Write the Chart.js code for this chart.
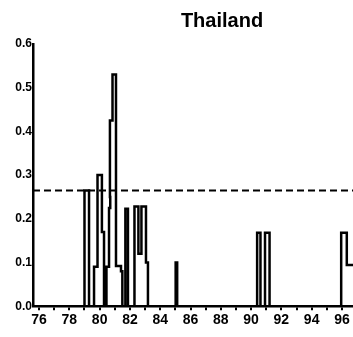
<!DOCTYPE html>
<html>
<head>
<meta charset="utf-8">
<script src="https://cdn.jsdelivr.net/npm/chart.js@4"></script>
<style>
  html, body { margin: 0; padding: 0; background: #fff; }
  #wrap { width: 353px; height: 337px; }
</style>
</head>
<body>
<div id="wrap"><canvas id="grafico" width="353" height="337"></canvas></div>
<script>
// Thailand - serie escalonada (año, valor desde ese año)
const titulo = "Thailand";
const anios = [75.6, 79.0, 79.3, 79.63, 79.86, 80.15, 80.29, 80.45, 80.62, 80.7, 80.68, 80.85, 81.08, 81.41, 81.5,
  81.7, 81.87, 82.3, 82.56, 82.76, 83.06, 83.19, 85.02, 85.12, 90.4, 90.62, 90.92, 91.22, 95.95, 96.32, 96.73];
const valores = [0, 0.265, 0, 0.09, 0.3, 0.17, 0, 0.09, 0.225, 0.25, 0.425, 0.53, 0.092, 0.08, 0,
  0.223, 0, 0.228, 0.12, 0.228, 0.1, 0, 0.1, 0, 0.168, 0, 0.168, 0, 0.168, 0.094, 0.094];
const media = 0.265;
const xMin = 75.6, xMax = 96.73;

const puntos = anios.map((a, i) => ({ x: a, y: valores[i] }));
const lineaMedia = [{ x: xMin, y: media }, { x: xMax, y: media }];

const fuente = "'Liberation Sans', Arial, sans-serif";

// titulo dibujado a mano (el original esta desplazado a la derecha)
const tituloPlugin = {
  id: "tituloPlugin",
  afterDraw(chart) {
    const ctx = chart.ctx;
    ctx.save();
    ctx.fillStyle = "#000";
    ctx.font = "bold 20px " + fuente;
    ctx.textAlign = "center";
    ctx.textBaseline = "middle";
    ctx.fillText(titulo, 222, 21);
    ctx.restore();
  }
};

new Chart(document.getElementById("grafico"), {
  type: "line",
  data: {
    datasets: [
      {
        data: puntos,
        borderColor: "#000",
        borderWidth: 2.5,
        stepped: true,
        pointRadius: 0,
        fill: false
      },
      {
        data: lineaMedia,
        borderColor: "#000",
        borderWidth: 2,
        borderDash: [7, 4],
        pointRadius: 0,
        fill: false
      }
    ]
  },
  options: {
    responsive: false,
    animation: false,
    layout: { padding: { top: 44, right: 0, left: 0, bottom: 6 } },
    plugins: { legend: { display: false }, tooltip: { enabled: false }, title: { display: false } },
    scales: {
      x: {
        type: "linear",
        min: xMin,
        max: xMax,
        afterBuildTicks(scale) {
          const t = [];
          for (let v = 76; v <= 96; v++) t.push({ value: v });
          scale.ticks = t;
        },
        ticks: {
          autoSkip: false,
          maxRotation: 0,
          padding: 2,
          color: "#000",
          font: { family: fuente, size: 14, weight: "bold" },
          callback: v => (v % 2 === 0 ? String(v) : "")
        },
        grid: { drawOnChartArea: false, color: "#000", tickLength: 4, lineWidth: 2 },
        border: { color: "#000", width: 2.5 }
      },
      y: {
        min: 0,
        max: 0.6,
        afterFit(scale) { scale.width = 33; },
        ticks: {
          stepSize: 0.1,
          padding: 0,
          color: "#000",
          font: { family: fuente, size: 12, weight: "bold" },
          callback: v => v.toFixed(1)
        },
        grid: { drawOnChartArea: false, tickLength: 1, color: "#000" },
        border: { color: "#000", width: 2.5 }
      }
    }
  },
  plugins: [tituloPlugin]
});
</script>
</body>
</html>
